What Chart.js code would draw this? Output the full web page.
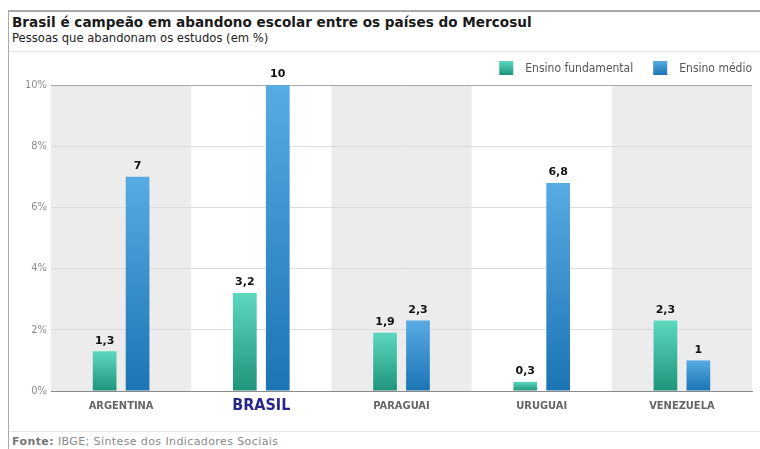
<!DOCTYPE html>
<html>
<head>
<meta charset="utf-8">
<script src="https://cdn.jsdelivr.net/npm/chart.js@4.4.1/dist/chart.umd.min.js"></script>
<style>
  body { margin: 0; width: 760px; height: 449px; background: #fff; overflow: hidden; position: relative;
         font-family: "DejaVu Sans", sans-serif; }
  #frame { position: absolute; left: 8px; top: 10px; width: 752px; height: 439px;
           border-top: 2px solid #a8a8a8; border-left: 1px solid #a8a8a8; }
  #title { position: absolute; left: 12px; top: 14px; font-size: 13.6px; font-weight: bold; color: #1a1a1a; white-space: nowrap; }
  #subtitle { position: absolute; left: 12px; top: 31px; font-size: 11.6px; color: #222; white-space: nowrap; }
  #sep { position: absolute; left: 9px; top: 51px; width: 751px; border-top: 1px solid #e4e4e4; }
  #wrap { position: absolute; left: 9px; top: 53px; width: 751px; height: 378px; }
  #foot { position: absolute; left: 9px; top: 431px; width: 751px; height: 18px; border-top: 1px solid #e6e6e6;
          font-size: 11px; color: #8a8a8a; white-space: nowrap; letter-spacing: 0.4px; }
  #foot span { position: absolute; left: 3px; top: 3px; }
  #foot b { color: #777; }
</style>
</head>
<body>
<div id="frame"></div>
<div id="title">Brasil é campeão em abandono escolar entre os países do Mercosul</div>
<div id="subtitle">Pessoas que abandonam os estudos (em %)</div>
<div id="sep"></div>
<div id="wrap"><canvas id="myChart"></canvas></div>
<div id="foot"><span><b>Fonte:</b> IBGE; Síntese dos Indicadores Sociais</span></div>
<script>
var countries = ["ARGENTINA", "BRASIL", "PARAGUAI", "URUGUAI", "VENEZUELA"];
var fundamental = [1.3, 3.2, 1.9, 0.3, 2.3];
var medio = [7, 10, 2.3, 6.8, 1];
var yTicks = [0, 2, 4, 6, 8, 10];

var fontMain = "'DejaVu Sans Condensed', 'DejaVu Sans', sans-serif";

// gradient from the top of each bar down to the zero line
function barGradient(top, bottom) {
  return function(ctx) {
    var chart = ctx.chart;
    if (!chart.chartArea || ctx.type !== 'data') return bottom;
    var y = chart.scales.y;
    var g = chart.ctx.createLinearGradient(0, y.getPixelForValue(ctx.raw), 0, y.getPixelForValue(0));
    g.addColorStop(0, top);
    g.addColorStop(1, bottom);
    return g;
  };
}

var colors = [["#5cd8bf", "#1f947a"], ["#58abe2", "#1c74b4"]];

// grey / white column bands behind each country
var bandsPlugin = {
  id: 'bands',
  beforeDraw: function(chart) {
    var ctx = chart.ctx, x = chart.scales.x, area = chart.chartArea;
    var w = x.width / countries.length;
    ctx.save();
    ctx.fillStyle = '#ececec';
    for (var i = 0; i < countries.length; i += 2) {
      var cx = x.getPixelForValue(i);
      ctx.fillRect(cx - w / 2, area.top, w, area.bottom - area.top);
    }
    ctx.restore();
  }
};

// numbers above the bars
var valuesPlugin = {
  id: 'values',
  afterDatasetsDraw: function(chart) {
    var ctx = chart.ctx;
    ctx.save();
    ctx.font = "bold 11px 'DejaVu Sans', sans-serif";
    ctx.fillStyle = '#111';
    ctx.textAlign = 'center';
    ctx.textBaseline = 'bottom';
    chart.data.datasets.forEach(function(ds, d) {
      chart.getDatasetMeta(d).data.forEach(function(bar, i) {
        ctx.fillText(String(ds.data[i]).replace('.', ','), bar.x, bar.y - 5);
      });
    });
    ctx.restore();
  }
};

// legend in the top right corner
var legendPlugin = {
  id: 'myLegend',
  afterDraw: function(chart) {
    var ctx = chart.ctx, area = chart.chartArea;
    ctx.save();
    ctx.font = "12px " + fontMain;
    ctx.textBaseline = 'middle';
    var x = area.right;
    var ys = 8, box = 14;
    var items = chart.data.datasets.slice().reverse();
    items.forEach(function(ds, k) {
      var idx = items.length - 1 - k;
      var tw = ctx.measureText(ds.label).width;
      var tx = x - tw;
      ctx.fillStyle = '#555';
      ctx.textAlign = 'left';
      ctx.fillText(ds.label, tx, ys + box / 2 + 1);
      var bx = tx - 12 - box;
      var g = ctx.createLinearGradient(0, ys, 0, ys + box);
      g.addColorStop(0, colors[idx][0]);
      g.addColorStop(1, colors[idx][1]);
      ctx.fillStyle = g;
      ctx.fillRect(bx, ys, box, box);
      x = bx - 20;
    });
    ctx.restore();
  }
};

var ctx = document.getElementById('myChart').getContext('2d');
var chart = new Chart(ctx, {
  type: 'bar',
  data: {
    labels: countries,
    datasets: [{
      label: 'Ensino fundamental',
      data: fundamental,
      backgroundColor: barGradient(colors[0][0], colors[0][1])
    }, {
      label: 'Ensino médio',
      data: medio,
      backgroundColor: barGradient(colors[1][0], colors[1][1])
    }]
  },
  options: {
    responsive: true,
    maintainAspectRatio: false,
    animation: false,
    categoryPercentage: 0.47,
    barPercentage: 0.72,
    layout: { padding: { top: 32, right: 8, left: 0, bottom: 0 } },
    plugins: {
      legend: { display: false },
      tooltip: { enabled: false }
    },
    scales: {
      x: {
        grid: { display: false, drawTicks: false },
        border: { display: true, color: '#8a8a8a' },
        ticks: {
          padding: 7,
          color: function(c) { return c.index === 1 ? '#27288a' : '#666'; },
          font: function(c) {
            return c.index === 1
              ? { family: fontMain, size: 16, weight: 'bold', lineHeight: '16px' }
              : { family: fontMain, size: 11, weight: 'bold', lineHeight: '16px' };
          }
        },
        afterFit: function(s) { s.height = 40; }
      },
      y: {
        min: 0,
        max: 10,
        afterBuildTicks: function(s) { s.ticks = yTicks.map(function(v) { return { value: v }; }); },
        grid: {
          drawTicks: false,
          color: function(c) {
            if (c.tick.value === 10) return '#a8a8a8';
            if (c.tick.value === 0) return '#8a8a8a';
            return '#dcdcdc';
          }
        },
        border: { display: false },
        ticks: {
          padding: 4,
          color: '#8c8c8c',
          font: { family: fontMain, size: 11 },
          callback: function(v) { return v + '%'; }
        },
        afterFit: function(s) { s.width = 42; }
      }
    }
  },
  plugins: [bandsPlugin, valuesPlugin, legendPlugin]
});
</script>
</body>
</html>
